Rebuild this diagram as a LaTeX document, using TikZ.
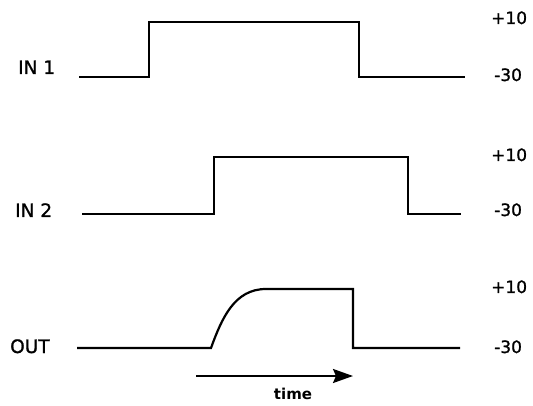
\documentclass[tikz,border=0pt]{standalone}
\usepackage{fontspec}
\setmainfont{DejaVu Sans}
\newfontfamily\lblfont{DejaVu Sans}[FakeBold=1.2]
\usetikzlibrary{arrows.meta}

\begin{document}
\begin{tikzpicture}[x=1pt, y=-1pt]
\tikzstyle{every node}=[inner sep=0pt, font=\lblfont\fontsize{18.5}{18.5}\selectfont]
\tikzstyle{wave}=[line width=2.2pt, line join=miter]
\tikzstyle{lvl}=[anchor=base west, font=\lblfont\fontsize{17}{17}\selectfont]
\useasboundingbox (0,0) rectangle (533,406);
% signal names on the left
\node[anchor=base west] (in1) at (18,74) {IN 1};
\node[anchor=base west] (in2) at (15,217) {IN 2};
\node[anchor=base west] (out) at (10,353) {OUT};
% levels on the right
\node[lvl] (hi1) at (491,24) {+10};
\node[lvl] (lo1) at (494,81) {-30};
\node[lvl] (hi2) at (491,161) {+10};
\node[lvl] (lo2) at (494,216) {-30};
\node[lvl] (hi3) at (491,293) {+10};
\node[lvl] (lo3) at (494,353) {-30};

% input pulses
\draw[wave] (79,77) -- (149,77) -- (149,22) -- (359,22) -- (359,77) -- (465,77);
\draw[wave] (82,214) -- (214,214) -- (214,157) -- (408,157) -- (408,214) -- (461,214);

% output: slow rise, sharp fall
\draw[wave] (77,348) -- (211,348) to[out=70, in=180] (266,289)
  -- (353,289) -- (353,348) -- (460,348);

% time axis
\coordinate (t0) at (196,376);
\coordinate (t1) at (353,376);
\draw[line width=2.2pt, -{Stealth[length=20pt, width=14pt, inset=3pt]}] (t0) -- (t1);
\node[font=\fontsize{15}{15}\selectfont\bfseries, anchor=base] (time) at (293,399) {time};
\end{tikzpicture}
\end{document}
